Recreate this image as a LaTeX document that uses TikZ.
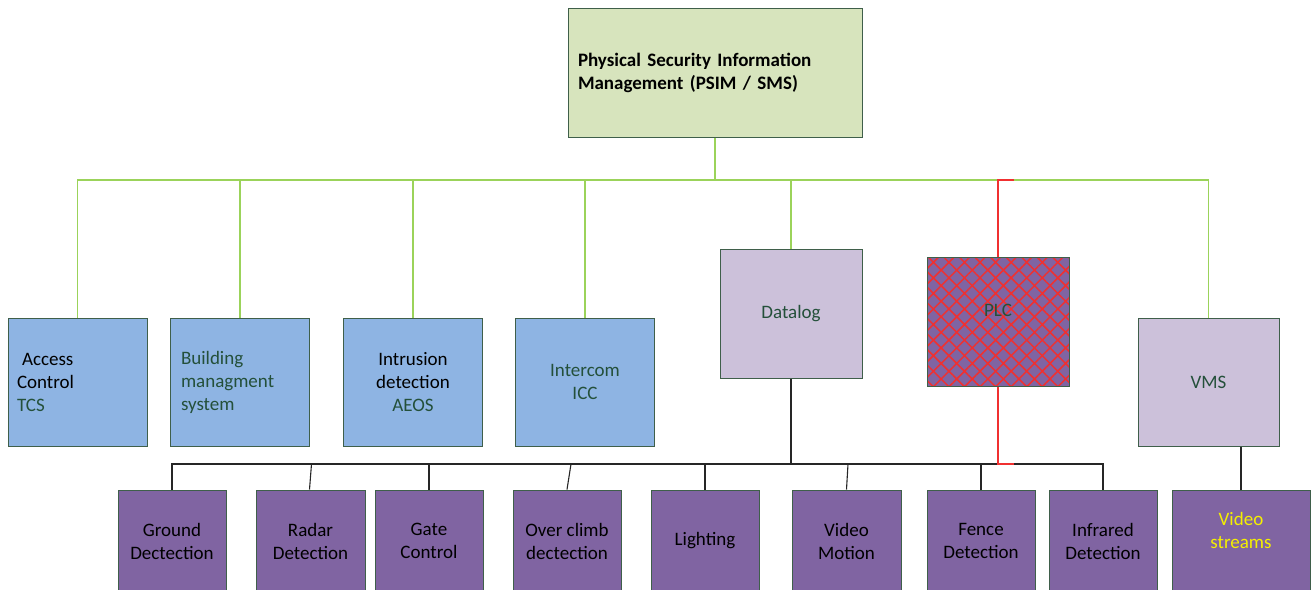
\documentclass[tikz,border=0pt]{standalone}
\usepackage{fontspec}
\setmainfont{Carlito}
\usetikzlibrary{patterns.meta}
\definecolor{psimg}{HTML}{D7E4BD}
\definecolor{bordc}{HTML}{3F5F4A}
\definecolor{blue1}{HTML}{8EB4E3}
\definecolor{lav}{HTML}{CCC1DA}
\definecolor{purp}{HTML}{8064A2}
\definecolor{dgreen}{HTML}{24503A}
\definecolor{lgreen}{HTML}{9BD35A}
\definecolor{yel}{HTML}{F5F000}
\definecolor{redl}{HTML}{F03030}
\begin{document}
\begin{tikzpicture}[x=1pt,y=-1pt,
  box/.style={draw=bordc, line width=1pt, inner sep=0pt, font=\fontsize{19}{23}\selectfont, align=center},
  topbox/.style={box, minimum width=139pt, minimum height=128pt},
  bot/.style={box, fill=purp, minimum width=108pt, minimum height=102pt},
  gline/.style={draw=lgreen, line width=1.2pt},
  bline/.style={draw=black!85, line width=1.1pt},
  rline/.style={draw=redl, line width=1.2pt}]
\useasboundingbox (0,0) rectangle (1314,589);
\clip (0,0) rectangle (1314,589);
% top
\node[box, fill=psimg, minimum width=294pt, minimum height=129pt, text width=274pt, align=left, font=\bfseries\fontsize{19}{23}\selectfont] (psim) at (715,72.5) {Physical Security Information\\Management (PSIM / SMS)};
% second row
\node[topbox, fill=blue1, text width=121pt, align=left] (access) at (77.5,382) {\hspace*{5pt}Access\\Control\\\textcolor{dgreen}{TCS}};
\node[topbox, fill=blue1, text width=118pt, align=left, text=dgreen] (building) at (240,382) {Building\\managment\\system};
\node[topbox, fill=blue1] (intrusion) at (413,382) {Intrusion\\detection\\\textcolor{dgreen}{AEOS}};
\node[topbox, fill=blue1, text=dgreen] (intercom) at (585,382) {Intercom\\ICC};
\node[box, fill=lav, minimum width=142pt, minimum height=129pt, text=dgreen] (datalog) at (791,313.5) {Datalog};
\node[box, fill=purp, minimum width=142pt, minimum height=129pt,
  postaction={pattern={Hatch[angle=45,distance=11pt,line width=1.5pt]}, pattern color=redl},
  postaction={draw=bordc, line width=1pt}] (plc) at (998,321.5) {};
\node[font=\fontsize{19}{23}\selectfont, text=dgreen, inner sep=0pt] (plctext) at ([yshift=11pt]plc.center) {PLC};
\node[box, fill=lav, minimum width=141pt, minimum height=128pt, text=dgreen] (vms) at (1208.5,382) {VMS};
% bottom row
\node[bot] (ground) at (172,541) {Ground\\Dectection};
\node[bot, minimum width=109pt] (radar) at (310.5,541) {Radar\\Detection};
\node[bot] (gate) at (429,541) {Gate\\Control};
\node[bot] (over) at (567,541) {Over climb\\dectection};
\node[bot] (lighting) at (705,541) {Lighting};
\node[bot, minimum width=109pt] (vmotion) at (846.5,541) {Video\\Motion};
\node[bot] (fence) at (981,541) {Fence\\Detection};
\node[bot] (infrared) at (1103,541) {Infrared\\Detection};
\node[bot, minimum width=138pt] (vstreams) at (1241,541) {};
\node[font=\fontsize{19}{23}\selectfont, text=yel, align=center, inner sep=0pt] (vstext) at ([yshift=11pt]vstreams.center) {Video\\streams};
% top connectors
\coordinate (tb) at (715,180);
\draw[gline] (psim.south) -- (tb);
\draw[gline] (tb) -| (access.north);
\draw[gline] (tb) -| (building.north);
\draw[gline] (tb) -| (intrusion.north);
\draw[gline] (tb) -| (intercom.north);
\draw[gline] (tb) -| (datalog.north);
\draw[gline] (tb) -| (vms.north);
\coordinate (pt) at (1014,180);
\draw[rline] (plc.north) |- (pt);
% bottom connectors
\coordinate (bb) at (791,464);
\draw[bline] (datalog.south) -- (bb);
\draw[bline] (bb) -| (ground.north);
\draw[bline] (bb) -| (infrared.north);
\draw[bline] ([xshift=1pt]radar.north |- bb) -- ([xshift=-1pt]radar.north);
\draw[bline] (gate.north |- bb) -- (gate.north);
\draw[bline] ([xshift=4pt]over.north |- bb) -- (over.north);
\draw[bline] (lighting.north |- bb) -- (lighting.north);
\draw[bline] ([xshift=1.5pt]vmotion.north |- bb) -- (vmotion.north);
\draw[bline] (fence.north |- bb) -- (fence.north);
\coordinate (pb) at (1014,464);
\draw[rline] (plc.south) |- (pb);
\draw[bline] (vms.south -| vstreams.north) -- (vstreams.north);
\end{tikzpicture}
\end{document}
